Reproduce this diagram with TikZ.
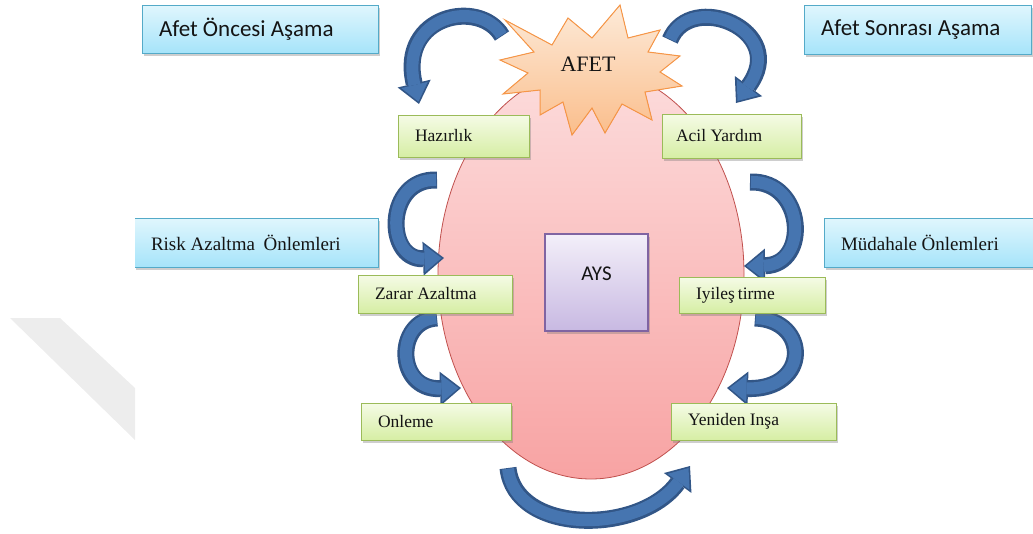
\documentclass[tikz,border=0pt]{standalone}
\usepackage{fontspec}
\setmainfont{Liberation Serif}
\newfontfamily\calfont{Carlito}
\usetikzlibrary{arrows.meta,shadows,shapes.geometric}

\definecolor{gtop}{RGB}{245,251,230}
\definecolor{gbot}{RGB}{214,238,164}
\definecolor{gline}{RGB}{155,187,89}
\definecolor{btop}{RGB}{224,246,253}
\definecolor{bbot}{RGB}{166,228,250}
\definecolor{bline}{RGB}{84,170,200}
\definecolor{ptop}{RGB}{243,239,249}
\definecolor{pbot}{RGB}{200,185,226}
\definecolor{pline}{RGB}{128,100,162}
\definecolor{etop}{RGB}{252,220,220}
\definecolor{ebot}{RGB}{248,163,163}
\definecolor{eline}{RGB}{192,80,77}
\definecolor{stop}{RGB}{253,234,216}
\definecolor{sbot}{RGB}{250,190,140}
\definecolor{sline}{RGB}{247,150,70}
\definecolor{arrowdark}{RGB}{50,86,135}
\definecolor{arrowmid}{RGB}{70,117,176}
\definecolor{ink}{RGB}{20,20,20}

\tikzset{
  boxshadow/.style={drop shadow={shadow xshift=2pt,shadow yshift=-2.5pt,opacity=0.35,fill=black!55}},
  greenbox/.style={draw=gline,line width=0.9pt,top color=gtop,bottom color=gbot,boxshadow,
    inner xsep=17pt,inner ysep=0pt,align=flush left,text=ink,font=\fontsize{17.5}{19}\selectfont},
  bluebox/.style={draw=bline,line width=0.9pt,top color=btop,bottom color=bbot,boxshadow,
    inner xsep=17pt,inner ysep=0pt,align=flush left,text=ink},
  serifblue/.style={bluebox,font=\fontsize{19}{21}\selectfont},
  sansblue/.style={bluebox,font=\calfont\fontsize{23}{25}\selectfont},
  arcout/.style={line width=17pt,draw=arrowdark,
    -{Triangle[width=34pt,length=21pt,line width=0pt]}},
  arcin/.style={line width=12pt,draw=arrowmid,shorten >=2.5pt,shorten <=0.8pt,
    -{Triangle[width=27pt,length=17pt,line width=0pt]}}
}

% thick curved block arrow: tail, two control points, tip
\newcommand\bluearrow[4]{%
  \draw[arcout] (#1) .. controls (#2) and (#3) .. (#4);
  \draw[arcin] (#1) .. controls (#2) and (#3) .. (#4);}

\begin{document}
\begin{tikzpicture}[x=1pt,y=-1pt]
\useasboundingbox (0,0) rectangle (1033,533);

% faint diagonal band at the left
\fill[black!7] (10,318) -- (60,318) -- (135,388) -- (135,440) -- cycle;

% central cycle
\node[ellipse,draw=eline,line width=0.8pt,top color=etop,bottom color=ebot,
  minimum width=306pt,minimum height=410pt,inner sep=0pt] (cycle) at (591,274) {};

\node[draw=pline,line width=1.2pt,top color=ptop,bottom color=pbot,boxshadow,
  minimum width=103pt,minimum height=97pt,inner sep=0pt,text depth=18pt,
  text=ink,font=\calfont\fontsize{21}{23}\selectfont] (ays) at (596.5,282.5) {AYS};

% curved arrows
\coordinate (t1) at (502,36);  \coordinate (h1) at (419,104);
\coordinate (t2) at (670,40);  \coordinate (h2) at (736,103);
\coordinate (t3) at (437,180); \coordinate (h3) at (444,258);
\coordinate (t4) at (437,318); \coordinate (h4) at (461,388);
\coordinate (t5) at (750,182); \coordinate (h5) at (744,266);
\coordinate (t6) at (755,318); \coordinate (h6) at (727,388);
\coordinate (t7) at (508,468); \coordinate (h7) at (690,466);
\bluearrow{t1}{480,-2}{398,15}{h1}
\bluearrow{t2}{690,-10}{790,30}{h2}
\bluearrow{t3}{385,178}{385,260}{h3}
\bluearrow{t4}{395,320}{395,390}{h4}
\bluearrow{t5}{805,180}{810,265}{h5}
\bluearrow{t6}{810,320}{810,390}{h6}
\bluearrow{t7}{515,535}{640,535}{h7}

% explosion
\filldraw[draw=sline,line width=1pt,top color=stop,bottom color=sbot]
  (620,5) -- (628,38) -- (660,30) -- (648,52) -- (680,56) -- (660,72) --
  (682,86) -- (645,92) -- (652,120) -- (622,104) -- (605,133) -- (592,108) --
  (572,135) -- (563,102) -- (540,115) -- (540,90) -- (503,94) -- (528,73) --
  (500,60) -- (534,52) -- (505,20) -- (552,45) -- (568,18) -- (592,38) -- cycle;
\node[text=ink,font=\fontsize{22}{24}\selectfont,inner sep=0pt] (afet) at (588,64) {AFET};

% phase boxes
\node[sansblue,text width=202pt,minimum height=48pt] (once) at (260,29) {Afet Öncesi Aşama};
\node[sansblue,text width=193pt,minimum height=49pt] (sonra) at (917.5,29.5) {Afet Sonrası Aşama};
\begin{scope}
  \clip (135,200) rectangle (400,290);
  \node[serifblue,text width=210pt,minimum height=49pt] (risk) at (256,242.5) {Risk Azaltma\hspace{4pt} Önlemleri};
\end{scope}
\node[serifblue,text width=187pt,minimum height=49pt] (mudahale) at (934.5,242.5) {Müdahale Önlemleri};

% stage boxes
\node[greenbox,text width=97pt,minimum height=42pt] (hazirlik) at (463.5,136) {Hazırlık};
\node[greenbox,text width=111pt,minimum height=44pt,inner xsep=14pt] (acil) at (731.5,136) {Acil Yardım};
\node[greenbox,text width=120pt,minimum height=38pt] (zarar) at (435,294) {Zarar Azaltma};
\node[greenbox,text width=112pt,minimum height=36pt] (iyi) at (752,295) {Iyileş\hspace{3pt}tirme};
\node[greenbox,text width=116pt,minimum height=37pt] (onleme) at (436,421.5) {Onleme};
\node[greenbox,text width=131pt,minimum height=37pt] (yeniden) at (753.5,421.5) {Yeniden Inşa};
\end{tikzpicture}
\end{document}
